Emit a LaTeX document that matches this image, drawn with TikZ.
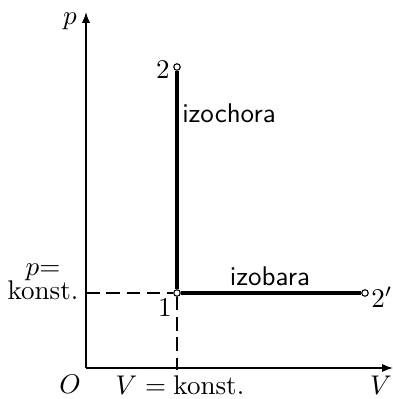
\documentclass[tikz,border=0pt]{standalone}
\usepackage{tikz}
\usetikzlibrary{arrows.meta,positioning}

\begin{document}
\begin{tikzpicture}[
	x=0.37pt, y=-0.37pt,
	axis/.style={-{Latex[length=4pt,width=3pt]}, line width=0.55pt},
	process/.style={line width=1.15pt},
	guide/.style={dash pattern=on 5pt off 2.5pt, line width=0.4pt},
	state/.style={circle, draw, fill=white, inner sep=0pt, minimum size=2.4pt, line width=0.4pt},
	sans/.style={font=\sffamily}
]
\useasboundingbox (0,0) rectangle (393,399);

% axes
\coordinate (O) at (86,368);
\coordinate (ptop) at (86,12);
\coordinate (vend) at (393,368);
\draw[axis] (O) -- (ptop);
\draw[axis] (O) -- (vend);

% states
\node[state] (s1) at (177,293) {};
\node[state] (s2) at (177,67) {};
\node[state] (s2p) at (365,293) {};

% guides to the axes
\coordinate (pmark) at (86,293);
\coordinate (vmark) at (177,370);
\draw[guide] (pmark) -- (s1);
\draw[guide] (s1) -- (vmark);

% processes
\draw[process] (s1) -- (s2);
\draw[process] (s1) -- (s2p);

% labels
\node (plab) at (70,21) {$p$};
\node (olab) at (70,384) {$O$};
\node (vlab) at (381,385) {$V$};
\node (vconst) at (180,385) {$V=\mathrm{konst.}$};
\node[align=center] (pconst) at (43,282) {$p{=}$\\[-3pt]konst.};
\node (n1) at (165,308) {$1$};
\node (n2) at (163,70) {$2$};
\node (n2p) at (382,297) {$2'$};
\node[sans] (iso1) at (229,113) {izochora};
\node[sans] (iso2) at (270,276) {izobara};
\end{tikzpicture}
\end{document}
